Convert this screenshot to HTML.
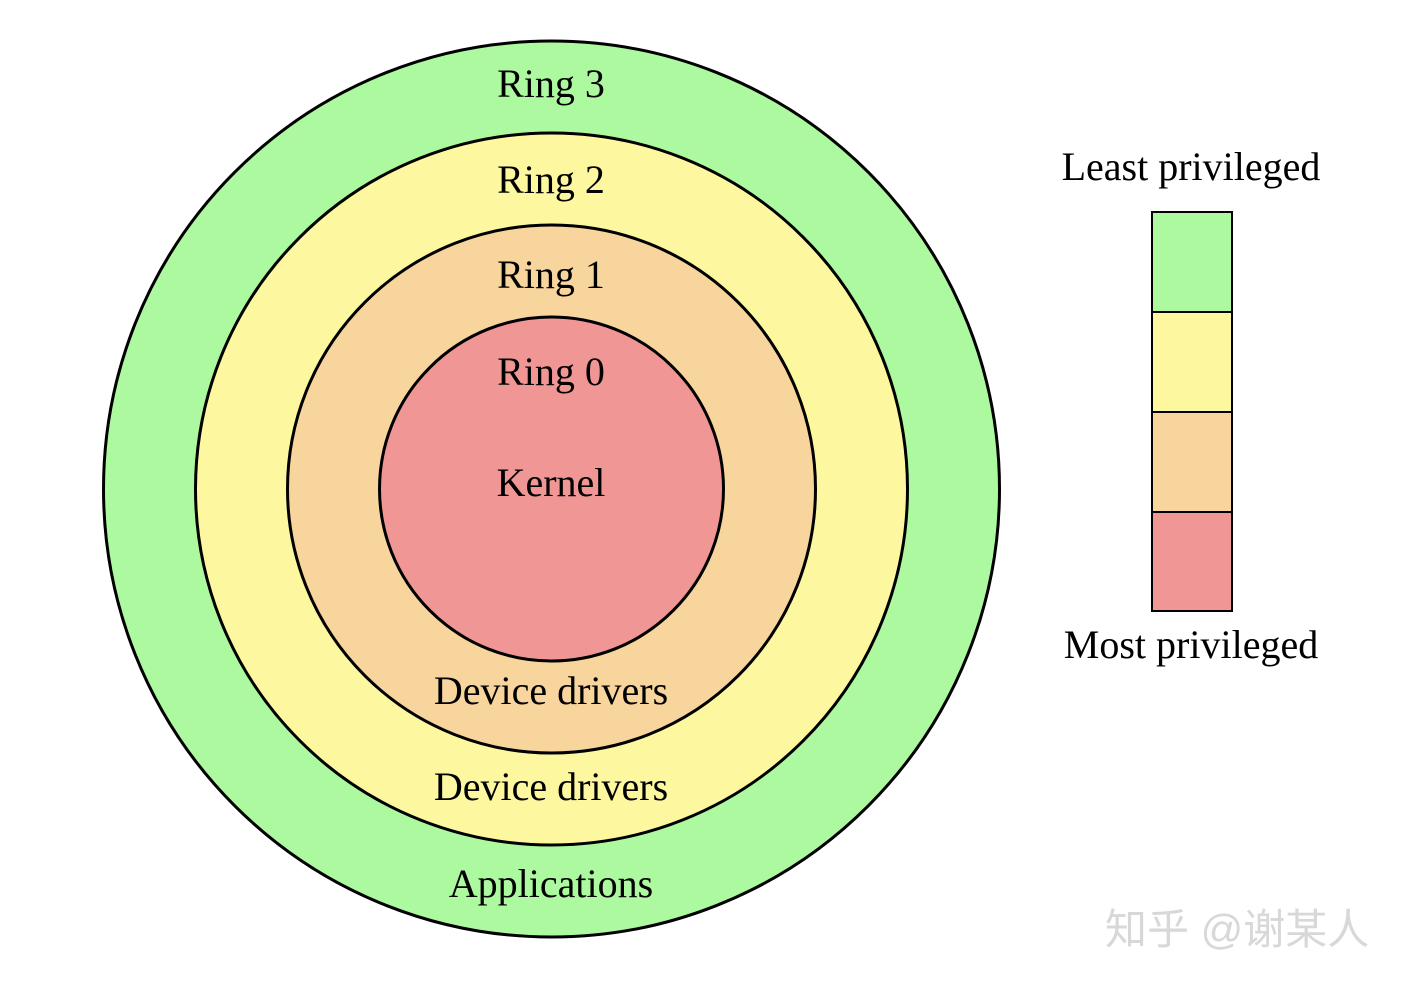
<!DOCTYPE html>
<html><head><meta charset="utf-8"><style>
html,body{margin:0;padding:0;background:#fff;}
svg{display:block;}
text{font-family:"Liberation Serif",serif;font-size:40px;fill:#000;}
</style></head><body>
<svg width="1406" height="986" viewBox="0 0 1406 986" xmlns="http://www.w3.org/2000/svg">
<circle cx="551.5" cy="489" r="448" fill="#adf9a0" stroke="#000" stroke-width="3"/>
<circle cx="551.5" cy="489" r="356" fill="#fdf8a0" stroke="#000" stroke-width="3"/>
<circle cx="551.5" cy="489" r="264" fill="#f7d59c" stroke="#000" stroke-width="3"/>
<circle cx="551.5" cy="489" r="172" fill="#f09795" stroke="#000" stroke-width="3"/>
<g text-anchor="middle">
<text x="551" y="97">Ring 3</text>
<text x="551" y="193">Ring 2</text>
<text x="551" y="288">Ring 1</text>
<text x="551" y="385">Ring 0</text>
<text x="551" y="496">Kernel</text>
<text x="551" y="704">Device drivers</text>
<text x="551" y="800">Device drivers</text>
<text x="551" y="897">Applications</text>
<text x="1191" y="180">Least privileged</text>
<text x="1191" y="658">Most privileged</text>
</g>
<rect x="1152" y="212" width="80" height="100" fill="#adf9a0" stroke="#000" stroke-width="2"/>
<rect x="1152" y="312" width="80" height="100" fill="#fdf8a0" stroke="#000" stroke-width="2"/>
<rect x="1152" y="412" width="80" height="100" fill="#f7d59c" stroke="#000" stroke-width="2"/>
<rect x="1152" y="512" width="80" height="99" fill="#f09795" stroke="#000" stroke-width="2"/>
<text x="1105" y="944" style="font-family:'Liberation Sans','Noto Sans CJK SC',sans-serif;font-size:42px;fill:#d8d8d8;">知乎 @谢某人</text>
</svg>
</body></html>
